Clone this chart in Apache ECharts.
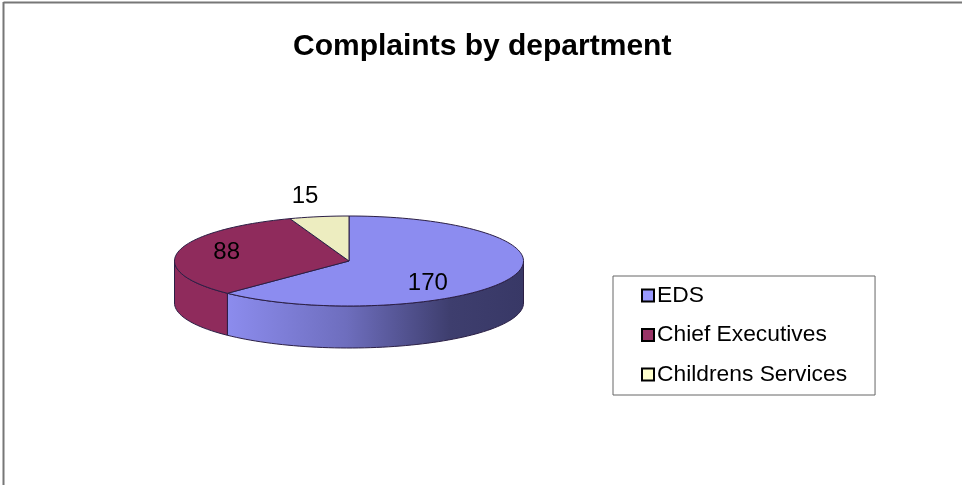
<!DOCTYPE html>
<html>
<head>
<meta charset="utf-8">
<title>Complaints by department</title>
<script src="https://cdn.jsdelivr.net/npm/echarts@6/dist/echarts.min.js"></script>
<style>
  html, body { margin: 0; padding: 0; background: #fff; overflow: hidden; }
  #main { width: 962px; height: 485px; }
</style>
</head>
<body>
<div id="main"></div>
<script>
var departments = ['EDS', 'Chief Executives', 'Childrens Services'];
var complaints = [170, 88, 15];
var legendColors = ['#9999ff', '#993366', '#ffffcc'];
var topColors = ['#8c8cf0', '#8f2b5c', '#ededc0'];

// pie geometry, the tilted disc is an ellipse with a 42px rim
var cx = 349, cy = 261, rx = 174.5, ry = 45, depth = 42;
// label shift from the middle of each slice
var labelShift = [[-2, 14], [-37, -4], [-29, -42]];

var total = complaints.reduce(function (a, b) { return a + b; }, 0);

function rimPoint(deg, dy) {
    var r = deg * Math.PI / 180;
    return [cx + rx * Math.sin(r), cy - ry * Math.cos(r) + (dy || 0)];
}

function arcPoints(from, to, dy) {
    var pts = [];
    var n = Math.max(2, Math.ceil(Math.abs(to - from) / 2));
    for (var i = 0; i <= n; i++) {
        pts.push(rimPoint(from + (to - from) * i / n, dy));
    }
    return pts;
}

function sideFill(i) {
    if (i !== 0) return topColors[i];
    return {
        type: 'linear', x: 0, y: 0, x2: 1, y2: 0,
        colorStops: [
            { offset: 0, color: '#8c8cee' },
            { offset: 0.4, color: '#6e6ebe' },
            { offset: 0.75, color: '#3e3e6e' },
            { offset: 1, color: '#383866' }
        ]
    };
}

function renderSlice(index) {
    return function () {
        var before = complaints.slice(0, index).reduce(function (a, b) { return a + b; }, 0);
        var start = before / total * 360;
        var end = (before + complaints[index]) / total * 360;
        var mid = rimPoint((start + end) / 2);
        var children = [];

        // only the front half of the rim can be seen
        var sideFrom = Math.max(start, 90), sideTo = Math.min(end, 270);
        if (sideTo > sideFrom) {
            children.push({
                type: 'polygon',
                shape: { points: arcPoints(sideFrom, sideTo, 0).concat(arcPoints(sideTo, sideFrom, depth)) },
                style: { fill: sideFill(index), stroke: '#2b1f45', lineWidth: 1 }
            });
        }
        children.push({
            type: 'polygon',
            shape: { points: [[cx, cy]].concat(arcPoints(start, end, 0)) },
            style: { fill: topColors[index], stroke: '#2b1f45', lineWidth: 1 }
        });
        children.push({
            type: 'text',
            z2: 10,
            style: {
                text: String(complaints[index]),
                x: (cx + mid[0]) / 2 + labelShift[index][0],
                y: (cy + mid[1]) / 2 + labelShift[index][1],
                fill: '#000',
                fontSize: 24,
                fontFamily: 'Liberation Sans',
                align: 'center',
                verticalAlign: 'middle'
            }
        });
        return { type: 'group', children: children };
    };
}

var chart = echarts.init(document.getElementById('main'));
chart.setOption({
    animation: false,
    backgroundColor: '#fff',
    title: {
        text: 'Complaints by department',
        left: 293,
        top: 32,
        padding: 0,
        textStyle: { fontFamily: 'Liberation Sans', fontSize: 30, fontWeight: 'bold', color: '#000' }
    },
    legend: {
        orient: 'vertical',
        left: 613,
        top: 276,
        padding: [8, 28, 9, 28],
        itemGap: 16.5,
        itemWidth: 12,
        itemHeight: 12,
        icon: 'rect',
        selectedMode: false,
        backgroundColor: '#fff',
        borderColor: '#666',
        borderWidth: 1,
        textStyle: { fontFamily: 'Liberation Sans', fontSize: 22.8, color: '#000', padding: [0, 0, 0, -2] },
        data: departments.map(function (name, i) {
            return { name: name, itemStyle: { color: legendColors[i], borderColor: '#000', borderWidth: 2 } };
        })
    },
    graphic: [
        { type: 'line', shape: { x1: 3.5, y1: 2.5, x2: 962, y2: 2.5 }, style: { stroke: '#777', lineWidth: 2 }, silent: true },
        { type: 'line', shape: { x1: 3.5, y1: 2, x2: 3.5, y2: 485 }, style: { stroke: '#777', lineWidth: 2 }, silent: true }
    ],
    series: departments.map(function (name, i) {
        return {
            type: 'custom',
            name: name,
            coordinateSystem: 'none',
            silent: true,
            itemStyle: { color: legendColors[i] },
            data: [complaints[i]],
            renderItem: renderSlice(i)
        };
    })
});
</script>
</body>
</html>
